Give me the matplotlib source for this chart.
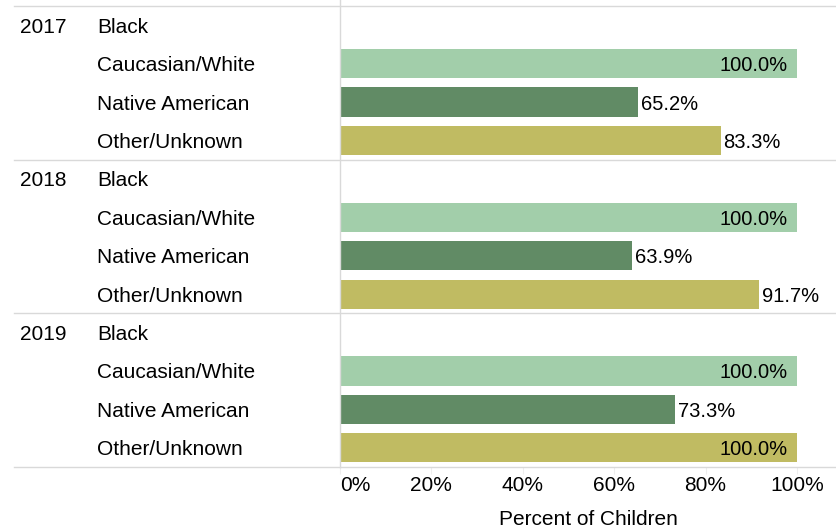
import numpy as np
import matplotlib.pyplot as plt
from matplotlib.transforms import blended_transform_factory

plt.rcParams['font.family'] = ['Liberation Sans', 'DejaVu Sans']

years = ["2017", "2018", "2019"]
races = ["Black", "Caucasian/White", "Native American", "Other/Unknown"]
# percent of children, None = no bar
pct_2017 = [None, 100.0, 65.2, 83.3]
pct_2018 = [None, 100.0, 63.9, 91.7]
pct_2019 = [None, 100.0, 73.3, 100.0]
colors = {"Black": "#4e79a7", "Caucasian/White": "#A2CEAA",
          "Native American": "#618B65", "Other/Unknown": "#C0BB62"}
xticks = [0, 20, 40, 60, 80, 100]

W, H = 836, 529
fig = plt.figure(figsize=(W / 100, H / 100), dpi=100)
ax = fig.add_axes([340 / W, (H - 467) / H, (W - 340) / W, 467 / H])

n = len(years) * len(races)
row_px = 461 / n
ax.set_ylim(n - 0.5, -0.5 - 6 / row_px)
ax.set_xlim(0, 100 * (W - 340) / 457)

trans = blended_transform_factory(fig.transFigure, ax.transData)
grey = "#d9d9d9"
dy = 2 / row_px  # nudge text down a little

all_pct = [pct_2017, pct_2018, pct_2019]
for g, (yr, vals) in enumerate(zip(years, all_pct)):
    for j, (race, v) in enumerate(zip(races, vals)):
        y = g * len(races) + j
        if j == 0:
            ax.text(20 / W, y + dy, yr, transform=trans, ha="left", va="center", fontsize=15)
        ax.text(97 / W, y + dy, race, transform=trans, ha="left", va="center", fontsize=15)
        if v is None:
            continue
        ax.barh(y, v, height=0.76, color=colors[race])
        lab = f"{v:.1f}%"
        if v >= 95:
            ax.text(v - 2, y + dy, lab, ha="right", va="center", fontsize=14.5)
        else:
            ax.text(v + 0.6, y + dy, lab, ha="left", va="center", fontsize=14.5)

# group separators
for k in range(len(years) + 1):
    yy = k * len(races) - 0.5
    ax.plot([14 / W, 1], [yy, yy], transform=trans, color=grey, lw=1, clip_on=False)

for s in ["top", "right", "bottom"]:
    ax.spines[s].set_visible(False)
ax.spines["left"].set_color(grey)
ax.spines["left"].set_linewidth(1)
ax.set_yticks([])
ax.set_xticks(xticks)
ax.set_xticklabels([f"{t}%" for t in xticks], fontsize=15)
ax.get_xticklabels()[0].set_horizontalalignment("left")
ax.tick_params(axis="x", length=5, color="#eeeeee", pad=1.5)
ax.set_xlabel("Percent of Children", fontsize=15, labelpad=11)

fig.savefig("out.png", dpi=100)
